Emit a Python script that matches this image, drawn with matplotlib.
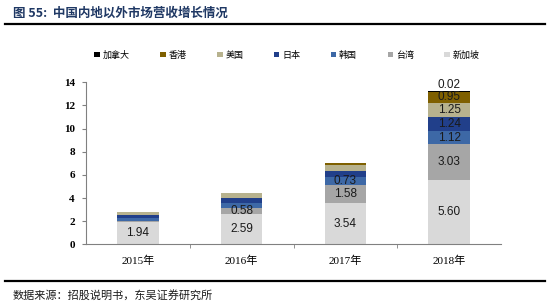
import matplotlib
matplotlib.use("Agg")
import matplotlib.pyplot as plt
from matplotlib.lines import Line2D
import numpy as np

years = ['2015年', '2016年', '2017年', '2018年']
series_names = ['新加坡', '台湾', '韩国', '日本', '美国', '香港', '加拿大']
singapore = [1.94, 2.59, 3.54, 5.60]
taiwan = [0.07, 0.58, 1.58, 3.03]
korea = [0.30, 0.42, 0.73, 1.12]
japan = [0.18, 0.38, 0.52, 1.24]
usa = [0.32, 0.43, 0.52, 1.25]
hongkong = [0.01, 0.02, 0.14, 0.95]
canada = [0.00, 0.00, 0.00, 0.02]
yticks = [0, 2, 4, 6, 8, 10, 12, 14]

series = [singapore, taiwan, korea, japan, usa, hongkong, canada]
colors = ['#d9d9d9', '#a6a6a6', '#3d68a6', '#213f8a', '#b7b28e', '#7f6000', '#000000']

CJK = ['Noto Sans CJK SC', 'DejaVu Sans']
SERIF = ['Liberation Serif', 'Noto Sans CJK SC']
SANS = ['Liberation Sans', 'DejaVu Sans']

fig = plt.figure(figsize=(5.54, 3.07), dpi=100)
ax = fig.add_axes([86/554, 1-244.3/307, (501-86)/554, (244.3-82.3)/307])

x = np.arange(len(years))
bottom = np.zeros(len(years))
bars = []
for vals, col, name in zip(series, colors, series_names):
    v = np.array(vals)
    b = ax.bar(x, v, 0.4, bottom=bottom, color=col, label=name, linewidth=0)
    bars.append(b)
    for i in range(len(years)):
        if v[i] >= 0.55:
            ax.text(x[i], bottom[i] + v[i]/2, f'{v[i]:.2f}', ha='center', va='center',
                    fontsize=8.5, family=SANS, color='#1a1a1a')
    bottom = bottom + v
# smallest top segment of last year labelled above the bar
last = len(years) - 1
ax.text(x[last], bottom[last] + 0.05, f'{canada[last]:.2f}', ha='center', va='bottom',
        fontsize=8.5, family=SANS, color='#1a1a1a')

ax.set_xlim(-0.5, 3.5)
ax.set_ylim(0, 14)
ax.set_yticks(yticks)
ax.set_yticklabels([str(t) for t in yticks], family=SERIF, fontsize=8, weight='bold')
ax.set_xticks(x)
ax.set_xticklabels(years, family=SERIF, fontsize=8)
ax.set_xticks(np.arange(0.5, 3.5, 1), minor=True)
ax.tick_params(axis='x', which='major', length=0, pad=8)
ax.tick_params(axis='x', which='minor', length=3, direction='out', color='#808080')
ax.tick_params(axis='y', length=3, direction='out', color='#808080', pad=5)
for s in ['top', 'right']:
    ax.spines[s].set_visible(False)
for s in ['left', 'bottom']:
    ax.spines[s].set_color('#808080')
    ax.spines[s].set_linewidth(0.8)

handles = [bars[i] for i in range(len(bars)-1, -1, -1)]
labels = [series_names[i] for i in range(len(series_names)-1, -1, -1)]
leg = fig.legend(handles, labels, ncol=7, loc='center', bbox_to_anchor=(287/554, 1-55/307),
                 frameon=False, prop={'family': CJK, 'size': 6.5},
                 handlelength=0.6, handleheight=0.6, handletextpad=0.3, columnspacing=3.4)

fig.text(13/554, 1-13/307, '图 55:  中国内地以外市场营收增长情况', fontsize=9, weight='bold',
         color='#1f3864', family=CJK, va='center', ha='left')
fig.add_artist(Line2D([5/554, 545/554], [1-24/307, 1-24/307], color='black', linewidth=1.6,
                      transform=fig.transFigure))
fig.add_artist(Line2D([5/554, 545/554], [1-281/307, 1-281/307], color='black', linewidth=1.6,
                      transform=fig.transFigure))
fig.text(13/554, 1-295/307, '数据来源：招股说明书，东吴证券研究所', fontsize=8,
         color='#1a1a1a', family=CJK, va='center', ha='left')

fig.savefig('out.png', dpi=100)
